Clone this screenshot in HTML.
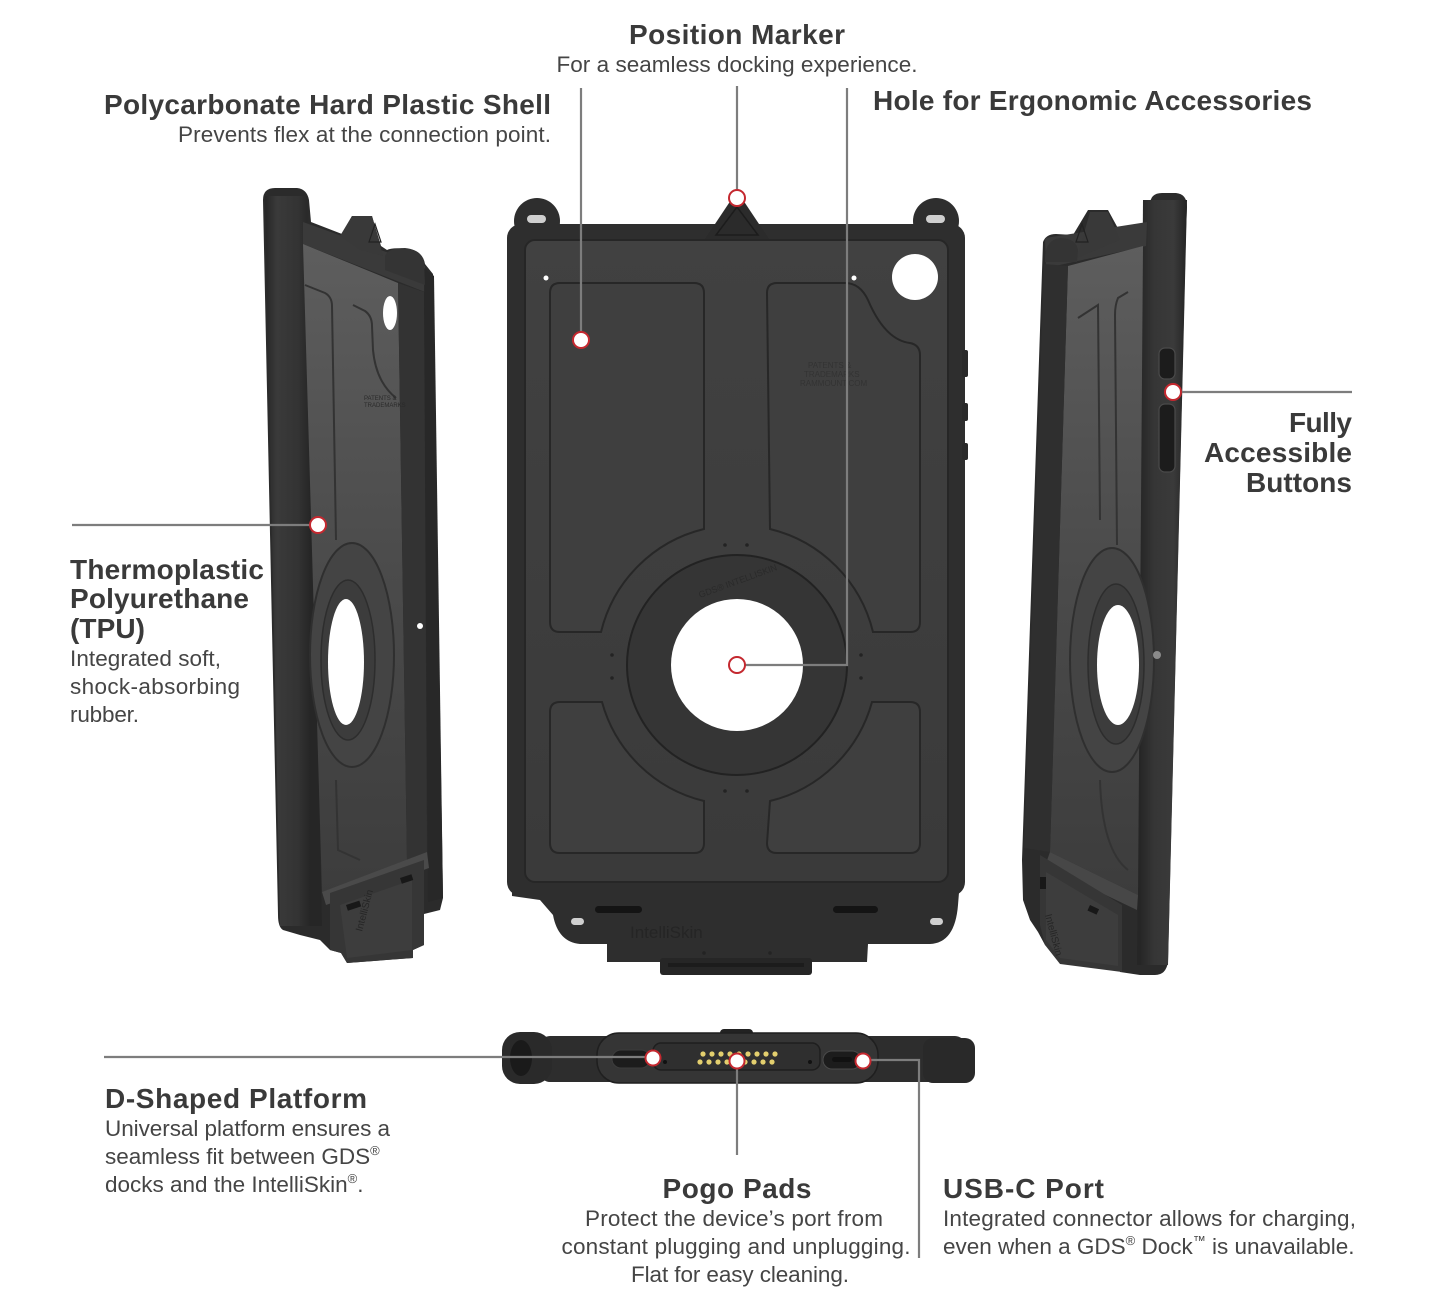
<!DOCTYPE html>
<html><head><meta charset="utf-8"><style>
html,body{margin:0;padding:0;background:#fff;}
svg{display:block;}
text{font-family:"Liberation Sans",Arial,sans-serif;}
.t{font-size:28px;font-weight:bold;fill:#3a3a3a;}
.s{font-size:22.5px;fill:#454545;}
</style></head><body>
<svg width="1440" height="1309" viewBox="0 0 1440 1309" xmlns="http://www.w3.org/2000/svg">
<defs>
<linearGradient id="floorL" x1="0" y1="240" x2="0" y2="900" gradientUnits="userSpaceOnUse">
<stop offset="0" stop-color="#5e5e5e"/><stop offset="0.5" stop-color="#4b4b4b"/><stop offset="1" stop-color="#3c3c3c"/></linearGradient>
<linearGradient id="rimL" x1="263" y1="0" x2="310" y2="0" gradientUnits="userSpaceOnUse">
<stop offset="0" stop-color="#232323"/><stop offset="0.3" stop-color="#3a3a3a"/><stop offset="0.75" stop-color="#333"/><stop offset="1" stop-color="#262626"/></linearGradient>
<linearGradient id="rimR" x1="1140" y1="0" x2="1188" y2="0" gradientUnits="userSpaceOnUse">
<stop offset="0" stop-color="#262626"/><stop offset="0.3" stop-color="#363636"/><stop offset="0.7" stop-color="#3a3a3a"/><stop offset="1" stop-color="#222"/></linearGradient>
<linearGradient id="cfloor" x1="0" y1="240" x2="0" y2="880" gradientUnits="userSpaceOnUse">
<stop offset="0" stop-color="#414141"/><stop offset="1" stop-color="#3a3a3a"/></linearGradient>
</defs>

<!-- ================= CENTER CASE ================= -->
<g>
<circle cx="537" cy="221" r="23" fill="#2e2e2e"/>
<circle cx="936" cy="221" r="23" fill="#2e2e2e"/>
<rect x="507" y="224" width="458" height="672" rx="14" fill="#2e2e2e"/>
<path d="M512,880 L960,880 L958,905 Q955,943 930,944 L868,944 L867,962 L607,962 L607,944 L580,944 Q558,942 553,915 L540,900 L512,896 Z" fill="#2e2e2e"/>
<rect x="660" y="958" width="152" height="17" rx="3" fill="#262626"/>
<rect x="668" y="963" width="136" height="4" fill="#1c1c1c"/>
<!-- ear slots -->
<rect x="527" y="215" width="19" height="8" rx="4" fill="#cfcfcf"/>
<rect x="926" y="215" width="19" height="8" rx="4" fill="#cfcfcf"/>
<rect x="571" y="918" width="13" height="7" rx="3.5" fill="#cfcfcf"/>
<rect x="930" y="918" width="13" height="7" rx="3.5" fill="#cfcfcf"/>
<!-- triangle marker -->
<polygon points="737,191 705,239 769,239" fill="#2b2b2b"/>
<polygon points="737,207 716,235 758,235" fill="none" stroke="#1c1c1c" stroke-width="1.5"/>
<!-- tray -->
<rect x="525" y="240" width="423" height="642" rx="10" fill="url(#cfloor)" stroke="#262626" stroke-width="2"/>
<!-- panels -->
<g fill="#3f3f3f" stroke="#272727" stroke-width="2">
<path d="M550,293 Q550,283 560,283 L694,283 Q704,283 704,293 L704,529 A140,140 0 0 0 601,632 L560,632 Q550,632 550,622 Z"/>
<path d="M767,293 Q767,283 777,283 L845,283 Q860,283 868,300 Q885,340 910,343 Q920,345 920,355 L920,622 Q920,632 910,632 L873,632 A140,140 0 0 0 770,529 Z"/>
<path d="M560,702 L602,702 A140,140 0 0 0 704,801 L704,843 Q704,853 694,853 L560,853 Q550,853 550,843 L550,712 Q550,702 560,702 Z"/>
<path d="M872,702 L910,702 Q920,702 920,712 L920,843 Q920,853 910,853 L777,853 Q767,853 767,843 L770,801 A140,140 0 0 0 872,702 Z"/>
</g>
<circle cx="737" cy="665" r="110" fill="#353535" stroke="#222" stroke-width="2"/>
<circle cx="737" cy="665" r="66" fill="#fff"/>
<text x="700" y="598" font-size="9" fill="#2a2a2a" transform="rotate(-20 700 598)">GDS® INTELLISKIN</text>
<text x="808" y="368" font-size="8" fill="#333">PATENTS &amp;</text>
<text x="804" y="377" font-size="8" fill="#333">TRADEMARKS</text>
<text x="800" y="386" font-size="8" fill="#333">RAMMOUNT.COM</text>
<g fill="#232323">
<circle cx="725" cy="545" r="1.8"/><circle cx="747" cy="545" r="1.8"/>
<circle cx="612" cy="655" r="1.8"/><circle cx="612" cy="678" r="1.8"/>
<circle cx="861" cy="655" r="1.8"/><circle cx="861" cy="678" r="1.8"/>
<circle cx="725" cy="791" r="1.8"/><circle cx="747" cy="791" r="1.8"/>
<circle cx="704" cy="953" r="1.8"/><circle cx="770" cy="953" r="1.8"/>
</g>
<circle cx="915" cy="277" r="23" fill="#fff"/>
<circle cx="546" cy="278" r="2.5" fill="#fff"/>
<circle cx="854" cy="278" r="2.5" fill="#fff"/>
<rect x="962" y="350" width="6" height="27" rx="2" fill="#2a2a2a"/>
<rect x="962" y="403" width="6" height="18" rx="2" fill="#2a2a2a"/>
<rect x="962" y="443" width="6" height="17" rx="2" fill="#2a2a2a"/>
<rect x="595" y="906" width="47" height="7" rx="3.5" fill="#141414"/>
<rect x="833" y="906" width="45" height="7" rx="3.5" fill="#141414"/>
<text x="630" y="938" font-size="17" fill="#252525">IntelliSkin</text>
</g>

<!-- ================= LEFT CASE ================= -->
<g>
<path d="M263,200 Q263,188 275,188 L297,188 Q307,189 309,200 L311,222 L342,234 L352,216 L372,216 L381,246 L387,250 Q392,247 410,249 Q423,252 425,264 L433,274 L443,898 L440,910 L424,914 L424,945 L413,950 L413,958 L347,963 L341,953 L330,950 L320,940 L300,935 L283,930 Q278,927 278,915 Z" fill="#2b2b2b"/>
<polygon points="265,196 307,196 322,926 280,926" fill="url(#rimL)"/>
<polygon points="303,222 425,266 425,292 303,244" fill="#3a3a3a"/>
<polygon points="303,244 398,283 407,862 322,892" fill="url(#floorL)"/>
<polygon points="398,283 424,292 427,852 407,862" fill="#333"/>
<polygon points="424,268 434,276 443,898 428,902" fill="#282828"/>
<polygon points="322,892 427,852 429,868 326,905" fill="#4a4a4a"/>
<polygon points="340,236 352,216 372,216 383,256 360,250" fill="#393939"/>
<polygon points="375,224 369,242 381,242" fill="none" stroke="#222" stroke-width="1.2"/>
<path d="M385,256 Q388,248 405,248 Q422,250 424,262 L425,285 L385,270 Z" fill="#343434"/>
<g fill="none" stroke="#333" stroke-width="2">
<path d="M305,285 L325,293 Q332,297 332,306 L336,540"/>
<path d="M353,305 L365,311 Q372,316 372,326 L373,350 Q376,382 396,398"/>
<path d="M336,780 L338,850 L360,860"/>
</g>
<ellipse cx="352" cy="655" rx="42" ry="112" fill="#444" stroke="#2f2f2f" stroke-width="2"/>
<ellipse cx="348" cy="660" rx="27" ry="80" fill="#3c3c3c" stroke="#2d2d2d" stroke-width="1.5"/>
<ellipse cx="346" cy="662" rx="18" ry="63" fill="#fff"/>
<ellipse cx="390" cy="313" rx="7" ry="17" fill="#fff"/>
<circle cx="420" cy="626" r="3" fill="#fff"/>
<text x="364" y="400" font-size="6" fill="#2a2a2a">PATENTS &amp;</text>
<text x="364" y="407" font-size="6" fill="#2a2a2a">TRADEMARKS</text>
<polygon points="330,893 424,860 424,945 413,950 413,958 347,963 341,953 330,950" fill="#363636"/>
<polygon points="340,905 412,880 412,950 347,958" fill="#3d3d3d"/>
<rect x="346" y="905" width="14" height="6" fill="#181818" transform="rotate(-18 346 905)"/>
<rect x="400" y="878" width="12" height="6" fill="#181818" transform="rotate(-18 400 878)"/>
<text x="362" y="932" font-size="10" fill="#262626" transform="rotate(-75 362 932)">IntelliSkin</text>
</g>

<!-- ================= RIGHT CASE ================= -->
<g>
<path d="M1150,205 Q1150,193 1162,193 L1176,193 Q1187,194 1187,207 L1186,230 L1168,962 Q1166,975 1155,975 L1140,975 L1120,972 L1120,962 L1060,955 L1045,945 L1038,932 L1030,920 L1023,900 L1022,860 L1043,242 Q1046,234 1056,234 L1073,235 L1088,210 L1108,210 L1120,232 L1148,222 Z" fill="#2b2b2b"/>
<polygon points="1143,200 1187,200 1168,965 1137,965" fill="url(#rimR)"/>
<polygon points="1045,238 1147,222 1146,246 1046,268" fill="#3a3a3a"/>
<polygon points="1068,266 1143,246 1138,895 1050,852" fill="url(#floorL)"/>
<polygon points="1044,264 1068,266 1050,852 1024,848" fill="#2f2f2f"/>
<polygon points="1050,852 1138,895 1137,910 1045,866" fill="#474747"/>
<polygon points="1077,258 1090,212 1108,212 1120,240" fill="#393939"/>
<polygon points="1082,224 1076,242 1088,242" fill="none" stroke="#222" stroke-width="1.2"/>
<path d="M1045,262 Q1044,240 1060,238 Q1076,238 1078,250 L1077,262 Z" fill="#343434"/>
<g fill="none" stroke="#333" stroke-width="2">
<path d="M1078,318 L1098,305 L1100,520"/>
<path d="M1128,292 L1118,298 Q1115,305 1115,315 L1117,545"/>
<path d="M1100,780 Q1102,850 1128,870"/>
</g>
<ellipse cx="1112" cy="660" rx="42" ry="112" fill="#444" stroke="#2f2f2f" stroke-width="2"/>
<ellipse cx="1116" cy="664" rx="28" ry="80" fill="#3c3c3c" stroke="#2d2d2d" stroke-width="1.5"/>
<ellipse cx="1118" cy="665" rx="21" ry="60" fill="#fff"/>
<rect x="1159" y="348" width="16" height="31" rx="6" fill="#1c1c1c" stroke="#4a4a4a" stroke-width="1.2"/>
<rect x="1159" y="404" width="16" height="68" rx="6" fill="#1c1c1c" stroke="#4a4a4a" stroke-width="1.2"/>
<circle cx="1157" cy="655" r="4" fill="#8a8a8a"/>
<polygon points="1040,855 1122,905 1122,972 1060,964 1045,945 1040,925" fill="#363636"/>
<polygon points="1046,872 1118,915 1118,966 1060,958 1046,940" fill="#3d3d3d"/>
<rect x="1040" y="877" width="6" height="12" fill="#181818"/>
<rect x="1090" y="905" width="10" height="6" fill="#181818" transform="rotate(25 1090 905)"/>
<text x="1045" y="915" font-size="10" fill="#262626" transform="rotate(75 1045 915)">IntelliSkin</text>
</g>

<!-- ================= BOTTOM PLATFORM ================= -->
<g>
<rect x="540" y="1036" width="425" height="46" rx="10" fill="#2d2d2d"/>
<rect x="923" y="1038" width="52" height="45" rx="10" fill="#292929"/>
<rect x="502" y="1032" width="50" height="52" rx="18" fill="#2a2a2a"/>
<ellipse cx="521" cy="1058" rx="11" ry="18" fill="#1a1a1a"/>
<rect x="720" y="1029" width="33" height="9" rx="4" fill="#222"/>
<rect x="597" y="1033" width="281" height="50" rx="22" fill="#353535" stroke="#1f1f1f" stroke-width="1.5"/>
<rect x="653" y="1043" width="167" height="27" rx="8" fill="#2f2f2f" stroke="#1e1e1e" stroke-width="1.5"/>
<rect x="612" y="1050" width="38" height="18" rx="9" fill="#1c1c1c" stroke="#3c3c3c"/>
<rect x="823" y="1051" width="38" height="18" rx="9" fill="#1c1c1c" stroke="#4a4a4a"/>
<rect x="832" y="1057" width="20" height="5" rx="2.5" fill="#111"/>
<circle cx="665" cy="1062" r="2" fill="#111"/>
<circle cx="810" cy="1062" r="2" fill="#111"/>
<g fill="#e3cf6e">
<circle cx="703" cy="1054" r="2.6"/><circle cx="712" cy="1054" r="2.6"/><circle cx="721" cy="1054" r="2.6"/><circle cx="730" cy="1054" r="2.6"/><circle cx="739" cy="1054" r="2.6"/><circle cx="748" cy="1054" r="2.6"/><circle cx="757" cy="1054" r="2.6"/><circle cx="766" cy="1054" r="2.6"/><circle cx="775" cy="1054" r="2.6"/>
<circle cx="700" cy="1062" r="2.6"/><circle cx="709" cy="1062" r="2.6"/><circle cx="718" cy="1062" r="2.6"/><circle cx="727" cy="1062" r="2.6"/><circle cx="736" cy="1062" r="2.6"/><circle cx="745" cy="1062" r="2.6"/><circle cx="754" cy="1062" r="2.6"/><circle cx="763" cy="1062" r="2.6"/><circle cx="772" cy="1062" r="2.6"/>
</g>
</g>

<!-- ================= LEADER LINES ================= -->
<g fill="none" stroke="#7d7d7d" stroke-width="2.2">
<path d="M737,86 L737,190"/>
<path d="M581,88 L581,332"/>
<path d="M847,88 L847,665 L745,665"/>
<path d="M1181,392 L1352,392"/>
<path d="M72,525 L310,525"/>
<path d="M104,1057 L645,1057"/>
<path d="M737,1069 L737,1155"/>
<path d="M871,1060 L919,1060 L919,1258"/>
</g>

<!-- ================= MARKERS ================= -->
<g fill="#fff" stroke="#c4282f" stroke-width="2">
<circle cx="737" cy="198" r="8"/>
<circle cx="581" cy="340" r="8"/>
<circle cx="737" cy="665" r="8"/>
<circle cx="318" cy="525" r="8"/>
<circle cx="1173" cy="392" r="8"/>
<circle cx="653" cy="1058" r="7.5"/>
<circle cx="737" cy="1061" r="7.5"/>
<circle cx="863" cy="1061" r="7.5"/>
</g>

<!-- ================= TEXT ================= -->
<text class="t" x="737" y="44" text-anchor="middle" textLength="216">Position Marker</text>
<text class="s" x="737" y="72" text-anchor="middle" textLength="361">For a seamless docking experience.</text>

<text class="t" x="551" y="114" text-anchor="end" textLength="447">Polycarbonate Hard Plastic Shell</text>
<text class="s" x="551" y="142" text-anchor="end" textLength="373">Prevents flex at the connection point.</text>

<text class="t" x="873" y="110" textLength="439">Hole for Ergonomic Accessories</text>

<text class="t" x="1352" y="432" text-anchor="end" textLength="63">Fully</text>
<text class="t" x="1352" y="462" text-anchor="end" textLength="148">Accessible</text>
<text class="t" x="1352" y="492" text-anchor="end" textLength="106">Buttons</text>

<text class="t" x="70" y="579" textLength="194">Thermoplastic</text>
<text class="t" x="70" y="608" textLength="179">Polyurethane</text>
<text class="t" x="70" y="638" textLength="75">(TPU)</text>
<text class="s" x="70" y="666" textLength="151">Integrated soft,</text>
<text class="s" x="70" y="694" textLength="170">shock-absorbing</text>
<text class="s" x="70" y="722" textLength="69">rubber.</text>

<text class="t" x="105" y="1108" textLength="262">D-Shaped Platform</text>
<text class="s" x="105" y="1136" textLength="285">Universal platform ensures a</text>
<text class="s" x="105" y="1164">seamless fit between GDS<tspan font-size="13" dy="-9">®</tspan></text>
<text class="s" x="105" y="1192">docks and the IntelliSkin<tspan font-size="13" dy="-9">®</tspan><tspan dy="9">.</tspan></text>

<text class="t" x="737" y="1198" text-anchor="middle" textLength="149">Pogo Pads</text>
<text class="s" x="734" y="1226" text-anchor="middle" textLength="298">Protect the device’s port from</text>
<text class="s" x="736" y="1254" text-anchor="middle" textLength="349">constant plugging and unplugging.</text>
<text class="s" x="740" y="1282" text-anchor="middle" textLength="218">Flat for easy cleaning.</text>

<text class="t" x="943" y="1198" textLength="161">USB-C Port</text>
<text class="s" x="943" y="1226" textLength="413">Integrated connector allows for charging,</text>
<text class="s" x="943" y="1254">even when a GDS<tspan font-size="13" dy="-9">®</tspan><tspan dy="9"> Dock</tspan><tspan font-size="13" dy="-9">™</tspan><tspan dy="9"> is unavailable.</tspan></text>
</svg>
</body></html>
